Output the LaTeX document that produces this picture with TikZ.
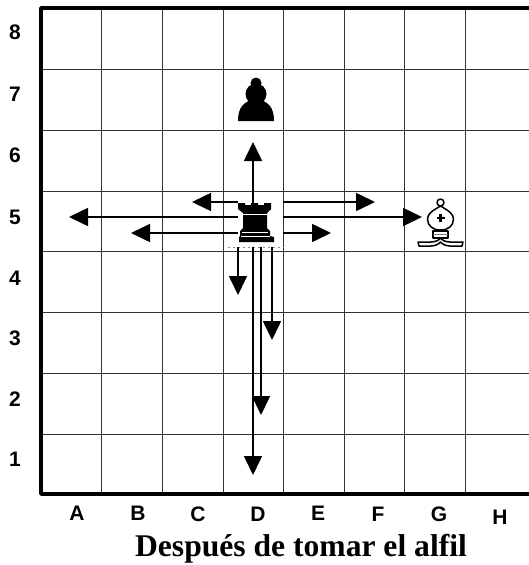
\documentclass[tikz,border=0pt]{standalone}
\usepackage{fontspec}
\setmainfont{Liberation Sans}
\newfontfamily\captionfont{Liberation Serif}
\usepackage{tikz}
\usetikzlibrary{
  arrows.meta
}
\tikzset{
  grid/.style={line width=1pt, black!80},
  frame/.style={line width=3.6pt, line join=round},
  mv/.style={-{Triangle[length=19pt,width=18pt]}, line width=1.6pt},
  lbl/.style={font=\fontsize{21}{21}\selectfont\bfseries, inner sep=0pt},
  blackpiece/.style={fill=black, draw=none},
  whitepiece/.style={fill=white, draw=black, line width=1.5pt, line join=round}
}
\begin{document}
\begin{tikzpicture}[x=1pt,y=-1pt]
      \useasboundingbox (0,0) rectangle (529,565);
      \foreach \x in {101,162,223,283,344,404,465}
        \draw [grid] (\x,8) -- (\x,494);
      \foreach \y in {69,130,191,251,312,373,434}
        \draw [grid] (41,\y) -- (529,\y);
      \draw [frame] (529,8) -- (41,8) -- (41,494) -- (529,494);
      \foreach \t/\y in {8/32,7/94,6/155,5/217,4/278,3/338,2/399,1/459}
        \node [lbl] (r\t) at (15,\y) {\t};
      \foreach \t/\x/\y in {A/77/513,B/138/513,C/198/514,D/258/514,E/318/513,F/378/514,G/439/514,H/500/517}
        \node [lbl] (f\t) at (\x,\y) {\t};
      \node [font=\fontsize{31.6}{32}\selectfont\captionfont\bfseries, inner sep=0pt] (title) at (301,549) {Después de tomar el alfil};
      % pawn
      \fill [blackpiece] (256,83) circle [radius=5.5];
      \fill [blackpiece] (256,94) circle [radius=10.5];
      \fill [blackpiece] (238,121) .. controls (238,108) and (243,101) .. (256,99)
        .. controls (269,101) and (274,108) .. (274,121) -- cycle;
      % rook
      \fill [blackpiece] (238,203) -- (245,203) -- (245,205) -- (251,205) -- (251,203) -- (258,203)
        -- (258,205) -- (264,205) -- (264,203) -- (271,203) -- (271,209) -- (267,213) -- (267,228)
        -- (270,231) -- (270,236) -- (274,237) -- (274,242) -- (239,242) -- (239,237) -- (240,236)
        -- (240,231) -- (243,228) -- (243,213) -- (238,209) -- cycle;
      \draw [white, line width=0.9pt] (243,214.5) -- (267,214.5) (242,232) -- (268,232) (241,236.5) -- (270,236.5);
      % bishop
      \draw [whitepiece] (433,231) rectangle (448,238);
      \draw [black!55, line width=1.8pt] (433,234.5) -- (448,234.5);
      \draw [whitepiece] (440.5,202.5) circle [radius=3.5];
      \draw [whitepiece] (440.5,206) .. controls (432,211) and (427.5,214) .. (427.5,219)
        .. controls (427.5,226) and (433,230) .. (440.5,230)
        .. controls (448,230) and (453.5,226) .. (453.5,219)
        .. controls (453.5,214) and (449,211) .. (440.5,206) -- cycle;
      \draw [line width=2.4pt] (436.5,218) -- (444.5,218) (440.5,214) -- (440.5,222);
      \draw [whitepiece] (418,242) -- (431,242) .. controls (436,242) and (439,240) .. (440.5,238)
        .. controls (442,240) and (445,242) .. (450,242) -- (463,242) -- (462,246) -- (450,246)
        .. controls (446,246) and (442,244) .. (440.5,242)
        .. controls (439,244) and (435,246) .. (431,246) -- (419,246) -- cycle;
      \coordinate (up) at (253,142);
      \coordinate (upstart) at (253,205);
      \coordinate (la) at (238,202);
      \coordinate (lb) at (238,217);
      \coordinate (lc) at (238,233);
      \coordinate (ra) at (283,202);
      \coordinate (rb) at (283,217);
      \coordinate (rc) at (283,233);
      \coordinate (lae) at (192,202);
      \coordinate (lbe) at (69,217);
      \coordinate (lce) at (131,233);
      \coordinate (rae) at (375,202);
      \coordinate (rbe) at (422,217);
      \coordinate (rce) at (331,233);
      \coordinate (da) at (238,247);
      \coordinate (db) at (253,247);
      \coordinate (dc) at (261,247);
      \coordinate (dd) at (272,247);
      \coordinate (dae) at (238,295);
      \coordinate (dbe) at (253,475);
      \coordinate (dce) at (261,415);
      \coordinate (dde) at (272,340);
      \draw [black!45, line width=0.7pt, dash pattern=on 2pt off 3pt] (228,247) -- (284,247);
      \draw [mv] (upstart) to (up);
      \draw [mv] (la) to (lae);
      \draw [mv] (lb) to (lbe);
      \draw [mv] (lc) to (lce);
      \draw [mv] (ra) to (rae);
      \draw [mv] (rb) to (rbe);
      \draw [mv] (rc) to (rce);
      \draw [mv] (da) to (dae);
      \draw [mv] (db) to (dbe);
      \draw [mv] (dc) to (dce);
      \draw [mv] (dd) to (dde);
    \end{tikzpicture}
\end{document}
